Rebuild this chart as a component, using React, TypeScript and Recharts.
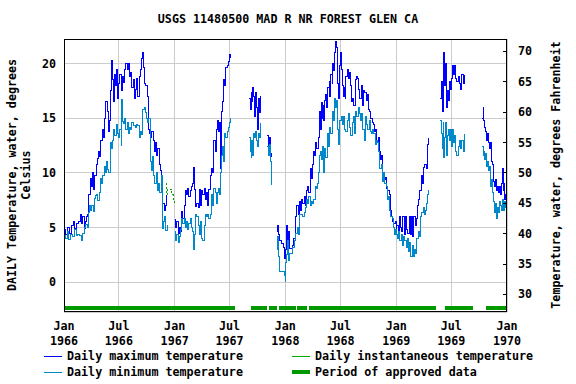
import React from 'react';
import { ComposedChart, Line, XAxis, YAxis, CartesianGrid } from 'recharts';

// x = days since 1 Jan 1966
const xTicks = [0, 181, 365, 546, 730, 912, 1096, 1277, 1461];
const xTickMonths = ['Jan', 'Jul', 'Jan', 'Jul', 'Jan', 'Jul', 'Jan', 'Jul', 'Jan'];
const xTickYears = ['1966', '1966', '1967', '1967', '1968', '1968', '1969', '1969', '1970'];
const cTicks = [0, 5, 10, 15, 20];
const fTicks = [30, 35, 40, 45, 50, 55, 60, 65, 70];

const maxSeries: [number, number | null][] = [
  [0,4.8],[6,4.4],[12,5.0],[18,4.5],[24,5.2],[30,5.6],[36,4.9],[42,5.4],[48,5.6],[54,6.2],[58,5.4],[62,6.0],[66,4.9],[70,5.6],[74,6.0],[78,6.2],[82,8.0],[86,9.5],[90,8.8],[94,10.0],[98,8.5],[102,9.8],[106,10.8],[110,11.3],[114,12.0],[118,11.5],[122,13.0],[126,14.0],[130,13.2],[134,15.0],[138,16.5],[142,15.6],[146,13.8],[150,14.8],[153,17.5],[156,19.2],[158,20.3],[161,18.5],[164,16.5],[167,19.0],[170,18.0],[173,19.5],[176,16.8],[180,18.2],[184,19.0],[188,17.5],[192,18.8],[196,18.3],[200,19.5],[204,20.0],[208,19.5],[212,20.0],[216,18.8],[220,19.2],[224,17.8],[228,18.5],[232,16.8],[236,17.6],[240,18.6],[244,17.0],[248,18.8],[252,19.5],[256,20.5],[259,21.0],[262,19.6],[266,18.2],[270,18.0],[274,17.0],[278,14.0],[282,13.6],[286,13.2],[290,13.8],[294,13.0],[298,12.0],[302,12.8],[306,11.6],[310,12.2],[314,10.8],[318,10.2],[322,9.8],[326,7.2],[330,6.6],[334,7.0],[338,8.0],[342,null],
  [366,5.7],[369,5.0],[372,5.6],[376,4.5],[380,5.0],[384,4.6],[388,6.5],[392,5.8],[396,7.0],[400,8.4],[404,8.0],[408,8.6],[412,7.8],[416,8.4],[420,8.8],[424,9.0],[427,10.5],[430,8.5],[434,6.9],[438,7.2],[442,6.8],[446,8.5],[450,7.0],[454,8.4],[458,8.0],[462,8.6],[466,7.6],[470,8.2],[474,7.0],[478,8.5],[482,9.8],[486,10.4],[490,10.0],[494,13.0],[498,12.0],[502,14.0],[506,14.8],[510,13.8],[514,14.6],[517,10.4],[520,15.6],[523,16.5],[526,18.5],[530,18.0],[534,19.6],[538,19.8],[542,20.2],[546,20.8],[549,20.5],[551,null],
  [611,16.8],[614,15.8],[617,17.4],[620,16.5],[623,17.8],[626,17.0],[629,15.2],[632,17.4],[636,16.0],[639,14.0],[642,16.8],[645,15.5],[648,17.0],[654,null],
  [671,13.4],[674,12.4],[677,13.2],[680,11.8],[683,11.5],[686,null],
  [702,4.6],[705,5.2],[708,4.4],[712,3.8],[718,3.5],[724,3.2],[728,2.2],[731,3.0],[734,5.2],[737,3.8],[740,4.6],[744,3.1],[752,3.4],[758,4.0],[764,6.0],[768,7.0],[772,6.2],[776,7.4],[780,6.6],[784,7.6],[788,7.2],[792,7.8],[796,7.0],[800,8.4],[804,8.8],[808,8.2],[812,10.4],[815,9.5],[818,10.8],[822,12.0],[826,11.6],[830,12.8],[834,12.2],[838,13.2],[842,15.6],[845,14.0],[848,16.4],[851,15.0],[854,16.2],[857,14.8],[860,16.6],[864,17.2],[867,16.0],[870,17.8],[874,18.4],[877,17.0],[880,19.0],[884,18.2],[887,20.0],[890,19.4],[893,21.0],[896,22.0],[900,21.5],[903,18.2],[906,16.8],[909,19.8],[912,21.0],[915,19.5],[918,18.0],[921,17.0],[924,17.8],[927,16.8],[930,18.8],[934,19.5],[938,18.6],[942,19.2],[946,18.0],[949,16.5],[952,16.8],[956,16.2],[960,18.5],[964,18.8],[968,18.6],[972,17.6],[976,16.8],[980,18.0],[984,16.2],[988,17.5],[992,17.4],[996,16.6],[1000,17.2],[1004,15.8],[1008,15.6],[1012,15.0],[1016,14.6],[1020,14.4],[1024,13.8],[1028,14.0],[1032,12.8],[1036,13.2],[1040,12.0],[1044,11.2],[1048,11.6],[1052,9.8],[1056,9.4],[1060,9.6],[1064,8.6],[1068,8.4],[1072,8.0],[1076,6.6],[1080,6.0],[1084,5.6],[1088,5.4],[1092,5.6],[1096,4.8],
  [1098,5.2],[1102,4.6],[1106,6.0],[1110,5.0],[1114,4.6],[1118,6.0],[1122,4.4],[1126,6.0],[1130,4.8],[1134,4.5],[1138,6.0],[1142,4.4],[1146,6.0],[1150,4.2],[1154,6.0],[1158,5.2],[1162,5.8],[1166,7.0],[1170,7.6],[1174,8.4],[1178,9.8],[1182,9.0],[1186,10.5],[1190,10.8],[1194,10.4],[1198,12.6],[1202,13.2],[1205,null],
  [1241,16.8],[1244,18.4],[1247,15.6],[1250,19.4],[1252,21.0],[1255,18.0],[1258,20.0],[1261,16.0],[1264,17.5],[1267,16.6],[1270,18.4],[1274,17.6],[1277,18.6],[1280,19.8],[1284,19.0],[1288,19.8],[1292,18.6],[1296,18.4],[1300,18.8],[1304,18.2],[1308,17.6],[1312,19.0],[1316,18.2],[1320,19.0],[1327,null],
  [1379,15.0],[1382,16.0],[1385,14.8],[1388,14.2],[1391,13.8],[1394,13.0],[1397,13.6],[1400,12.8],[1403,12.2],[1406,12.8],[1409,11.0],[1412,10.8],[1415,10.0],[1418,9.2],[1421,8.8],[1424,9.4],[1427,8.4],[1430,8.8],[1433,8.2],[1436,8.8],[1439,8.0],[1442,9.0],[1445,10.4],[1448,8.4],[1451,9.0],[1454,7.6],[1457,8.0],[1461,7.4],
];

const minSeries: [number, number | null][] = [
  [0,4.3],[6,4.0],[10,4.6],[16,3.9],[22,4.4],[28,4.2],[34,4.8],[40,4.3],[46,4.4],[52,4.3],[58,3.8],[62,4.5],[66,5.0],[72,5.3],[76,5.0],[80,6.4],[84,7.0],[88,6.6],[92,7.0],[96,6.5],[100,7.7],[104,7.9],[108,8.0],[112,7.5],[116,8.2],[120,9.5],[124,9.0],[128,9.8],[132,10.6],[136,10.0],[140,11.0],[144,10.3],[148,10.0],[152,12.8],[156,12.2],[160,13.0],[164,14.0],[168,13.4],[172,14.4],[176,13.6],[180,13.2],[184,14.0],[188,12.5],[190,16.7],[193,14.7],[196,14.5],[200,15.0],[204,14.0],[208,14.6],[212,13.6],[216,14.2],[220,14.0],[224,14.6],[228,14.3],[232,14.3],[236,14.2],[240,14.4],[244,14.3],[248,13.2],[252,13.8],[256,13.5],[260,15.8],[264,16.0],[268,15.5],[272,15.0],[276,14.6],[280,15.0],[284,11.0],[288,10.2],[292,11.5],[296,9.8],[300,9.0],[304,10.0],[308,8.4],[312,9.0],[316,8.2],[320,9.8],[324,4.9],[328,5.6],[332,6.0],[336,4.7],[340,5.2],[342,null],
  [366,4.6],[369,3.8],[372,4.4],[376,3.6],[380,4.2],[384,4.8],[388,5.8],[392,5.4],[396,5.8],[400,5.0],[404,5.6],[408,4.8],[412,5.4],[416,5.8],[420,5.0],[424,4.6],[427,3.0],[430,4.4],[434,6.2],[438,6.0],[442,5.2],[446,4.4],[450,5.6],[454,4.0],[458,3.8],[462,5.2],[466,6.2],[470,6.0],[474,6.2],[478,5.8],[482,6.2],[486,8.0],[490,7.0],[494,8.6],[498,8.2],[502,7.2],[506,8.2],[510,8.6],[514,8.0],[517,10.0],[520,11.6],[523,12.4],[526,11.0],[530,13.6],[534,13.2],[538,13.8],[542,14.2],[546,14.6],[549,15.0],[551,null],
  [611,13.2],[614,12.0],[617,11.4],[620,13.0],[623,11.6],[626,13.6],[629,13.2],[632,13.8],[636,13.0],[639,12.4],[642,13.6],[645,13.2],[648,14.6],[654,null],
  [671,12.4],[674,11.6],[677,12.6],[680,11.0],[683,8.9],[686,null],
  [702,3.0],[705,4.2],[708,2.4],[711,1.0],[720,1.0],[727,0.6],[729,0.1],[731,1.8],[734,2.5],[737,3.8],[740,2.0],[744,2.6],[752,3.2],[760,3.8],[764,4.5],[770,5.0],[774,4.4],[778,6.2],[784,6.2],[788,6.0],[792,6.4],[796,6.8],[800,7.6],[804,7.2],[808,7.8],[812,7.0],[816,7.4],[820,7.2],[824,7.6],[828,8.8],[832,8.6],[836,9.0],[840,10.0],[843,11.6],[846,12.0],[850,11.2],[853,12.4],[856,10.0],[860,12.2],[864,11.4],[868,13.6],[872,12.4],[876,14.2],[880,13.6],[884,15.6],[888,14.8],[892,16.8],[896,16.0],[900,16.6],[903,14.0],[906,12.6],[910,14.8],[914,15.2],[918,14.4],[922,15.2],[926,14.0],[930,13.8],[934,14.8],[938,15.4],[942,14.2],[946,13.4],[950,14.6],[954,15.2],[958,13.6],[962,15.6],[966,15.2],[970,16.0],[974,15.4],[978,14.8],[982,15.4],[986,14.0],[990,13.0],[994,15.2],[998,14.4],[1002,14.0],[1006,14.8],[1010,13.8],[1014,13.6],[1018,14.0],[1022,13.6],[1026,12.6],[1030,13.0],[1034,12.8],[1038,12.0],[1042,10.4],[1046,10.8],[1050,9.2],[1054,10.0],[1058,9.0],[1062,8.8],[1066,7.6],[1070,7.8],[1074,6.6],[1078,6.0],[1082,5.8],[1086,5.0],[1090,4.4],[1094,4.8],
  [1096,4.4],[1100,4.0],[1104,4.6],[1108,3.8],[1112,4.4],[1116,3.4],[1120,4.2],[1124,3.8],[1128,3.2],[1132,4.0],[1136,2.8],[1140,3.6],[1144,2.4],[1148,3.4],[1152,2.4],[1156,3.0],[1160,2.6],[1164,4.0],[1168,4.6],[1172,4.2],[1176,6.0],[1180,6.4],[1184,6.8],[1188,6.2],[1192,6.6],[1196,7.2],[1200,8.0],[1203,8.4],[1205,null],
  [1241,14.8],[1244,13.6],[1247,12.2],[1250,14.6],[1253,11.4],[1256,13.2],[1259,14.6],[1262,11.6],[1265,13.4],[1268,14.0],[1271,13.0],[1274,14.0],[1277,12.4],[1280,14.0],[1284,12.8],[1288,13.4],[1292,12.0],[1296,11.6],[1300,12.4],[1304,13.0],[1308,12.2],[1312,13.0],[1316,12.0],[1320,13.6],[1327,null],
  [1379,12.4],[1382,11.6],[1385,12.0],[1388,11.2],[1391,11.8],[1394,10.6],[1397,11.0],[1400,10.2],[1403,10.6],[1406,8.8],[1409,9.4],[1412,8.2],[1415,7.8],[1418,7.4],[1421,6.4],[1424,7.2],[1427,5.8],[1430,6.8],[1433,6.4],[1436,7.4],[1439,7.0],[1442,6.6],[1445,7.6],[1448,7.0],[1451,6.6],[1454,7.4],[1457,6.8],[1461,6.8],
];

const instSeries: [number, number | null][] = [
  [337,9.0],[339,8.0],[342,8.5],[352,8.5],[355,8.0],[360,7.6],[364,7.1],
];

// period of approved data: [start day, end day]
const approvedPeriods: [number, number][] = [
  [0,563],[616,668],[675,702],[708,764],[770,800],[807,1226],[1255,1348],[1391,1461],
];
const approvedLevelF = 27.77;

const toRows = (s: [number, number | null][]) => s.map(([day, v]) => ({ day, v }));
const maxData = toRows(maxSeries);
const minData = toRows(minSeries);
const instData = toRows(instSeries);
const approvedData: { day: number; v: number | null }[] = [];
approvedPeriods.forEach(([a, b]) => {
  approvedData.push({ day: a, v: approvedLevelF });
  approvedData.push({ day: b, v: approvedLevelF });
  approvedData.push({ day: b + 0.5, v: null });
});

const FONT = "'DejaVu Sans Mono', monospace";
const FS = 11.7;

const XTick = (props: any) => {
  const { x, y, payload } = props;
  const i = xTicks.indexOf(payload.value);
  return (
    <text x={x} y={y} textAnchor="middle" fontFamily={FONT} fontSize={FS} fontWeight="bold" fill="#000">
      <tspan x={x} dy={18}>{xTickMonths[i]}</tspan>
      <tspan x={x} dy={15}>{xTickYears[i]}</tspan>
    </text>
  );
};

const LeftTick = (props: any) => {
  const { x, y, payload } = props;
  return (
    <text x={x} y={y} dy={4} textAnchor="end" fontFamily={FONT} fontSize={FS} fontWeight="bold" fill="#000">
      {payload.value}
    </text>
  );
};

const RightTick = (props: any) => {
  const { x, y, payload } = props;
  const edge = x - 11;
  return (
    <g>
      <line x1={edge - 4} x2={edge} y1={y} y2={y} stroke="#000" strokeWidth={1} shapeRendering="crispEdges" />
      <text x={x} y={y} dy={4} textAnchor="start" fontFamily={FONT} fontSize={FS} fontWeight="bold" fill="#000">
        {payload.value}
      </text>
    </g>
  );
};

const txt = { fontFamily: FONT, fontSize: FS, fontWeight: 'bold' as const, fill: '#000' };

export default function App() {
  return (
    <div style={{ position: 'absolute', left: 0, top: 0, width: 576, height: 384, background: '#fff' }}>
      <ComposedChart width={576} height={384} margin={{ top: 39, right: 19, bottom: 32, left: 8 }}>
        <CartesianGrid yAxisId="c" stroke="#cccccc" strokeWidth={1} shapeRendering="crispEdges" />
        <XAxis
          dataKey="day"
          type="number"
          domain={[0, 1461]}
          ticks={xTicks}
          allowDataOverflow
          height={40}
          tickSize={0}
          tickMargin={0}
          axisLine={false}
          tick={<XTick />}
          interval={0}
        />
        <YAxis
          yAxisId="c"
          type="number"
          domain={[-2.72, 22.25]}
          ticks={cTicks}
          allowDataOverflow
          width={56}
          tickSize={0}
          tickMargin={8}
          axisLine={false}
          tick={<LeftTick />}
          interval={0}
        />
        <YAxis
          yAxisId="f"
          orientation="right"
          type="number"
          domain={[27.1, 72.05]}
          ticks={fTicks}
          allowDataOverflow
          width={50}
          tickSize={0}
          tickMargin={11}
          axisLine={false}
          tick={<RightTick />}
          interval={0}
        />
        <Line data={approvedData} dataKey="v" yAxisId="f" type="linear" stroke="#009900" strokeWidth={4} dot={false} isAnimationActive={false} connectNulls={false} shapeRendering="crispEdges" />
        <Line data={maxData} dataKey="v" yAxisId="c" type="stepAfter" stroke="#0000ff" strokeWidth={1} dot={false} isAnimationActive={false} connectNulls={false} shapeRendering="crispEdges" />
        <Line data={minData} dataKey="v" yAxisId="c" type="stepAfter" stroke="#0088cc" strokeWidth={1} dot={false} isAnimationActive={false} connectNulls={false} shapeRendering="crispEdges" />
        <Line data={instData} dataKey="v" yAxisId="c" type="stepAfter" stroke="#00aa00" strokeWidth={1} strokeDasharray="2 2" dot={false} isAnimationActive={false} connectNulls={false} shapeRendering="crispEdges" />
      </ComposedChart>
      <svg width={576} height={384} style={{ position: 'absolute', left: 0, top: 0, pointerEvents: 'none' }}>
        <rect x={64.5} y={39.5} width={442} height={272} fill="none" stroke="#000" strokeWidth={1} />
        <text x={288} y={23} textAnchor="middle" {...txt}>USGS 11480500 MAD R NR FOREST GLEN CA</text>
        <text transform="translate(16,175) rotate(-90)" textAnchor="middle" {...txt}>DAILY Temperature, water, degrees</text>
        <text transform="translate(30,175) rotate(-90)" textAnchor="middle" {...txt}>Celsius</text>
        <text transform="translate(560,175) rotate(-90)" textAnchor="middle" {...txt}>Temperature, water, degrees Fahrenheit</text>
        <line x1={44} x2={62} y1={356.5} y2={356.5} stroke="#0000ff" strokeWidth={1} />
        <text x={67} y={360} {...txt}>Daily maximum temperature</text>
        <line x1={44} x2={62} y1={372.5} y2={372.5} stroke="#0088cc" strokeWidth={1} />
        <text x={67} y={376} {...txt}>Daily minimum temperature</text>
        <line x1={292} x2={310} y1={356.5} y2={356.5} stroke="#00aa00" strokeWidth={1} />
        <text x={315} y={360} {...txt}>Daily instantaneous temperature</text>
        <line x1={292} x2={310} y1={372} y2={372} stroke="#009900" strokeWidth={4} />
        <text x={315} y={376} {...txt}>Period of approved data</text>
      </svg>
    </div>
  );
}
